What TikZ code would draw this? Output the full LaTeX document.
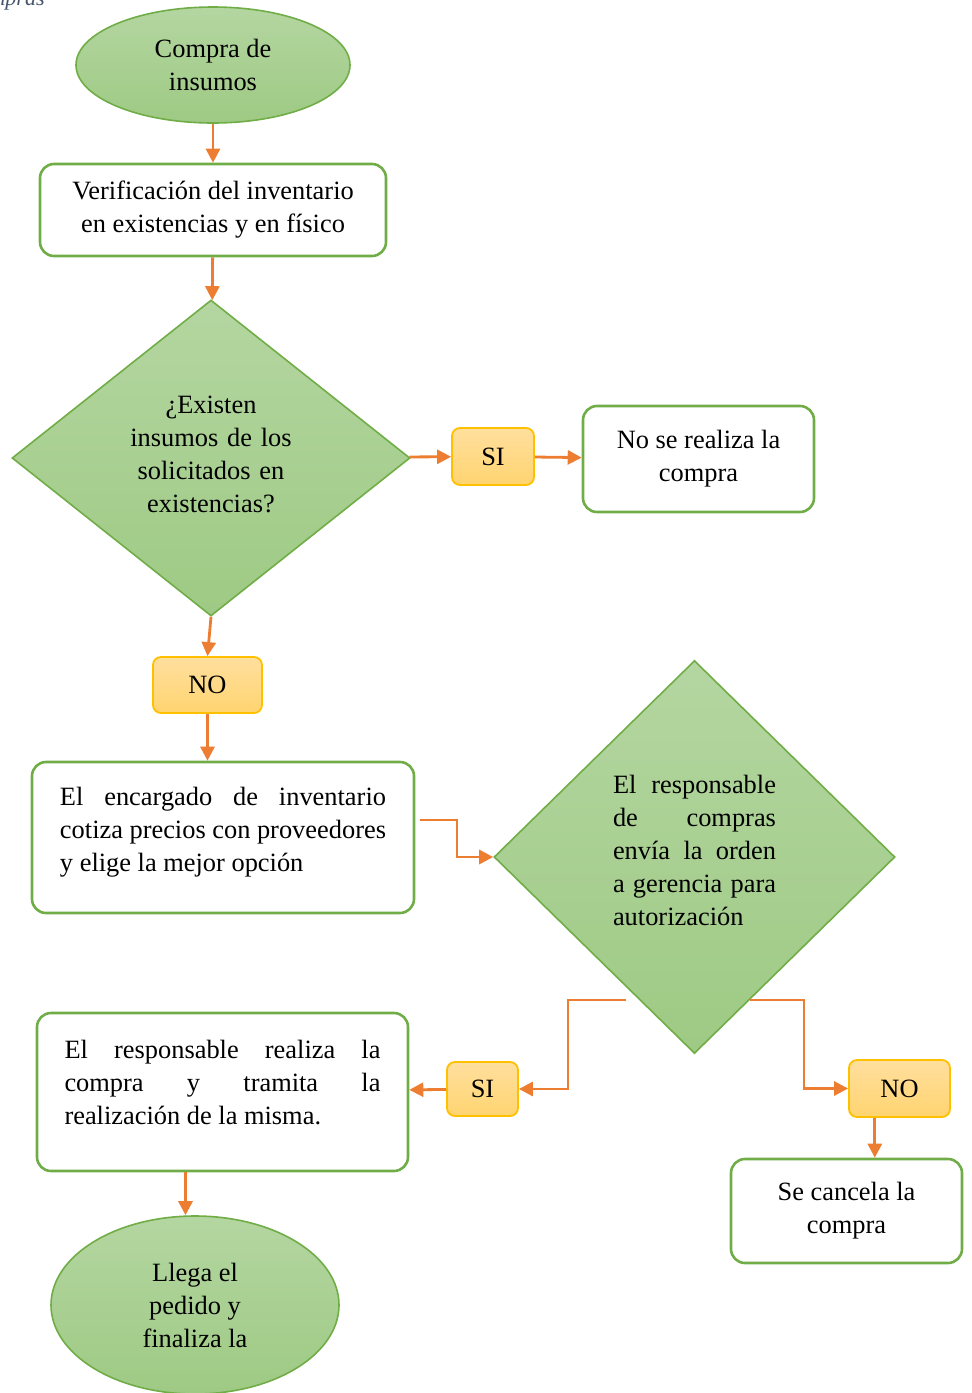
\documentclass[tikz,border=0pt]{standalone}
\usepackage{fontspec}
\setmainfont{Liberation Serif}
\usetikzlibrary{arrows.meta,shapes.geometric,positioning,calc}

\definecolor{verdeborde}{HTML}{70AD47}
\definecolor{verdearriba}{HTML}{B4D6A1}
\definecolor{verdeabajo}{HTML}{9ECA84}
\definecolor{amarilloborde}{HTML}{FFC000}
\definecolor{amarilloarriba}{HTML}{FFDF9E}
\definecolor{amarilloabajo}{HTML}{FFD470}
\definecolor{naranja}{HTML}{ED7D31}
\definecolor{gristitulo}{HTML}{44546A}

\tolerance=10000
\hbadness=10000
\hyphenpenalty=10000
\exhyphenpenalty=10000

\begin{document}
\begin{tikzpicture}[x=0.5pt,y=-0.5pt,font=\fontsize{13.2}{16.5}\selectfont]

        \tikzstyle{inicio}=[shape=ellipse,draw=verdeborde,line width=0.8pt,top color=verdearriba,bottom color=verdeabajo,inner sep=0pt,align=center]
        \tikzstyle{proceso}=[shape=rectangle,draw=verdeborde,line width=1.3pt,rounded corners=7pt,fill=white,inner sep=0pt,align=center]
        \tikzstyle{decision}=[shape=diamond,draw=verdeborde,line width=0.8pt,top color=verdearriba,bottom color=verdeabajo,inner sep=0pt,align=center]
        \tikzstyle{respuesta}=[shape=rectangle,draw=amarilloborde,line width=0.9pt,rounded corners=4pt,top color=amarilloarriba,bottom color=amarilloabajo,inner sep=0pt]
        \tikzstyle{flecha}=[draw=naranja,line width=1.4pt,-{Triangle[length=7pt,width=7pt]}]

        \useasboundingbox (0,0) rectangle (972,1393);

        \node[anchor=base east,inner sep=0pt,text=gristitulo,font=\fontsize{11}{13}\selectfont\itshape] (titulo) at (45,5) {compras};

        \node[inicio,minimum width=137pt,minimum height=58pt] (A) at (213,65) {Compra de\\insumos};
        \node[proceso,minimum width=173pt,minimum height=46pt] (B) at (213,210) {Verificación del inventario\\en existencias y en físico};
        \node[decision,minimum width=199pt,minimum height=158pt,text width=90pt] (C) at (211,458) {¿Existen\\insumos de los\\solicitados en\\existencias?\par\vspace{4pt}\nointerlineskip\hbox{}};
        \node[respuesta,minimum width=41pt,minimum height=28.5pt] (D) at (493,456.5) {SI};
        \node[proceso,minimum width=115.5pt,minimum height=53pt] (E) at (698.5,459) {No se realiza la\\compra};
        \node[respuesta,minimum width=54.5pt,minimum height=28pt] (F) at (207.5,685) {NO};
        \node[proceso,minimum width=191pt,minimum height=75.5pt,text width=163pt,align=justify] (G) at (223,837.5) {El encargado de inventario cotiza precios con proveedores y elige la mejor opción\par\vspace{5pt}\nointerlineskip\hbox{}};
        \node[decision,minimum width=200.5pt,minimum height=196.5pt,text width=81.5pt,align=justify] (H) at (694.5,857) {El responsable de compras envía la orden a gerencia para autorización\par\vspace{7pt}\nointerlineskip\hbox{}};
        \node[proceso,minimum width=185.5pt,minimum height=79pt,text width=158pt,align=justify] (I) at (222.5,1092) {El responsable realiza la\linebreak compra y tramita la\linebreak realización de la misma.\par\vspace{9.5pt}\nointerlineskip\hbox{}};
        \node[respuesta,minimum width=35.5pt,minimum height=27pt] (J) at (482.5,1089) {SI};
        \node[respuesta,minimum width=50.5pt,minimum height=28.5pt] (K) at (899.5,1088.5) {NO};
        \node[proceso,minimum width=115.5pt,minimum height=52pt] (L) at (846.5,1211) {Se cancela la\\compra};
        \node[inicio,minimum width=144pt,minimum height=89pt] (M) at (195,1305) {Llega el\\pedido y\\finaliza la};

        \coordinate (G1) at (420,820);
        \coordinate (G2) at (457,820);
        \coordinate (H1) at (626,1000);
        \coordinate (H2) at (568,1000);
        \coordinate (H3) at (750,1000);
        \coordinate (H4) at (804,1000);
        \coordinate (K1) at ($(K.south west)!.26!(K.south east)$);
        \coordinate (I1) at ($(I.south)+(-37,0)$);

        \draw [flecha] (A) -- (B);
        \draw [flecha] (B) -- (C);
        \draw [flecha] (C) -- (D);
        \draw [flecha] (D) -- (E);
        \draw [flecha] (C.south) -- (F.north);
        \draw [flecha] (F.south) -- (F.south |- G.north);
        \draw [flecha] (G1) -- (G2) |- (H.west);
        \draw [flecha] (H1) -- (H2) |- (J.east);
        \draw [flecha] (J) -- (I);
        \draw [flecha] (H3) -- (H4) |- (K.west);
        \draw [flecha] (K1) -- (K1 |- L.north);
        \draw [flecha] (I1) -- (I1 |- M.north);
      \end{tikzpicture}
\end{document}
